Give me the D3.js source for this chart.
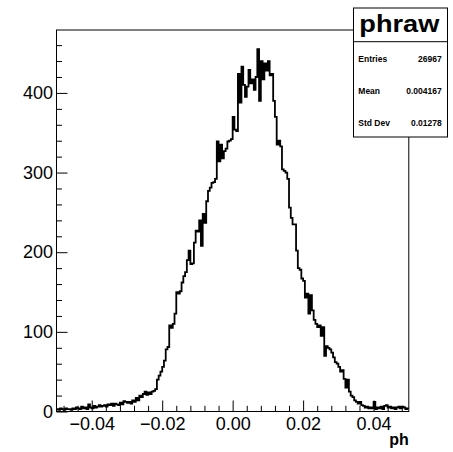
<!DOCTYPE html>
<html><head><meta charset="utf-8">
<script src="https://cdn.jsdelivr.net/npm/d3@7"></script>
<style>body{margin:0;background:#fff}svg{display:block}</style>
</head><body><svg id="c" width="453" height="452"></svg>
<script>
// ---- data ----
const xMin = -0.05, xMax = 0.05;
const counts = [
  3, 2, 4, 3, 2, 4, 3, 3, 2, 4,
  3, 5, 4, 3, 6, 4, 5, 3, 9, 5,
  4, 7, 5, 6, 8, 6, 7, 8, 6, 9,
  8, 10, 7, 10, 9, 8, 11, 9, 13, 12,
  11, 12, 10, 14, 12, 17, 14, 20, 18, 22,
  25, 21, 24, 22, 25, 26, 28, 40, 45, 50,
  56, 64, 78, 81, 108, 105, 110, 123, 150, 148,
  151, 162, 170, 175, 190, 202, 185, 186, 212, 227,
  226, 240, 208, 248, 237, 264, 277, 281, 287, 288,
  292, 339, 314, 335, 318, 327, 330, 339, 340, 342,
  370, 354, 352, 424, 388, 433, 410, 395, 408, 429,
  412, 417, 404, 420, 455, 390, 440, 417, 437, 428,
  440, 422, 424, 390, 370, 335, 340, 333, 304, 302,
  300, 292, 256, 243, 235, 235, 202, 180, 178, 167,
  164, 143, 148, 123, 146, 127, 115, 110, 106, 108,
  95, 106, 70, 82, 80, 78, 74, 68, 62, 60,
  56, 50, 52, 41, 30, 40, 25, 20, 18, 14,
  12, 10, 12, 8, 7, 5, 6, 4, 5, 4,
  12, 3, 5, 4, 6, 3, 7, 8, 5, 6,
  4, 5, 3, 5, 6, 4, 6, 5, 3, 4
];
const xMajorTicks = [-0.04, -0.02, 0.00, 0.02, 0.04];
const xMinorTicks = [-0.048,-0.044,-0.036,-0.032,-0.028,-0.024,-0.016,-0.012,-0.008,-0.004,
                     0.004,0.008,0.012,0.016,0.024,0.028,0.032,0.036,0.044,0.048];
const yMajorTicks = [0, 100, 200, 300, 400];
const yMinorTicks = [20,40,60,80,120,140,160,180,220,240,260,280,320,340,360,380,420,440,460];
const yMax = 479;
const histName = "phraw";
const statLabels = ["Entries", "Mean", "Std Dev"];
const statValues = ["26967", "0.004167", "0.01278"];
const xTitle = "ph";

// ---- layout ----
const L = 56.5, R = 408.8, T = 30, B = 411.5;
const svg = d3.select("#c");
const x = d3.scaleLinear().domain([xMin, xMax]).range([L, R]);
const y = d3.scaleLinear().domain([0, yMax]).range([B, T]);

const nb = counts.length;
const bw = (xMax - xMin) / nb;
const pts = counts.map((c, i) => [xMin + i * bw, c]);
pts.push([xMax, counts[nb - 1]]);

// histogram
svg.append("path")
  .attr("d", d3.line().x(d => x(d[0])).y(d => y(d[1])).curve(d3.curveStepAfter)(pts))
  .attr("fill", "none").attr("stroke", "#000").attr("stroke-width", 1.8)
  .attr("stroke-linejoin", "miter");

// axes
const font = "'Liberation Sans', Arial, Helvetica, sans-serif";
const gx = svg.append("g").attr("transform", `translate(0,${B})`)
  .call(d3.axisBottom(x).tickValues(xMajorTicks).tickSize(-11).tickPadding(6).tickFormat(d3.format(".2f")));
const gx2 = svg.append("g").attr("transform", `translate(0,${B})`)
  .call(d3.axisBottom(x).tickValues(xMinorTicks).tickSize(-5.7).tickFormat(""));
const gy = svg.append("g").attr("transform", `translate(${L},0)`)
  .call(d3.axisLeft(y).tickValues(yMajorTicks).tickSize(-11).tickPadding(3.5));
const gy2 = svg.append("g").attr("transform", `translate(${L},0)`)
  .call(d3.axisLeft(y).tickValues(yMinorTicks).tickSize(-5.5).tickFormat(""));
[gx, gx2, gy, gy2].forEach(g => {
  g.select(".domain").remove();
  g.selectAll("line").attr("stroke", "#000").attr("stroke-width", 1);
  g.selectAll("text").attr("font-family", font).attr("font-size", 18).attr("fill", "#000");
});

// frame
svg.append("rect").attr("x", L).attr("y", T).attr("width", R - L).attr("height", B - T)
  .attr("fill", "none").attr("stroke", "#000").attr("stroke-width", 1);

// axis title
svg.append("text").attr("x", R).attr("y", 445).attr("text-anchor", "end")
  .attr("font-family", font).attr("font-weight", "bold").attr("font-size", 16).text(xTitle);

// stat box
const sbL = 353.5, sbR = 447.5, sbT = 8, sbD = 41.7, sbB = 137;
svg.append("rect").attr("x", sbL).attr("y", sbT).attr("width", sbR - sbL).attr("height", sbB - sbT)
  .attr("fill", "#fff").attr("stroke", "#000").attr("stroke-width", 1);
svg.append("line").attr("x1", sbL).attr("x2", sbR).attr("y1", sbD).attr("y2", sbD)
  .attr("stroke", "#000").attr("stroke-width", 1);
svg.append("text").attr("x", 359.3).attr("y", 32.3)
  .attr("font-family", font).attr("font-weight", "bold").attr("font-size", 24)
  .attr("textLength", 80).attr("lengthAdjust", "spacingAndGlyphs").text(histName);
const rowH = (sbB - sbD) / statLabels.length;
statLabels.forEach((s, i) => {
  const cy = sbD + rowH * (i + 0.5) + 1.5;
  svg.append("text").attr("x", 358.3).attr("y", cy).attr("dy", "0.35em")
    .attr("font-family", font).attr("font-weight", "bold").attr("font-size", 8.5).text(s);
  svg.append("text").attr("x", 441.7).attr("y", cy).attr("dy", "0.35em").attr("text-anchor", "end")
    .attr("font-family", font).attr("font-weight", "bold").attr("font-size", 8.5).text(statValues[i]);
});
</script></body></html>
